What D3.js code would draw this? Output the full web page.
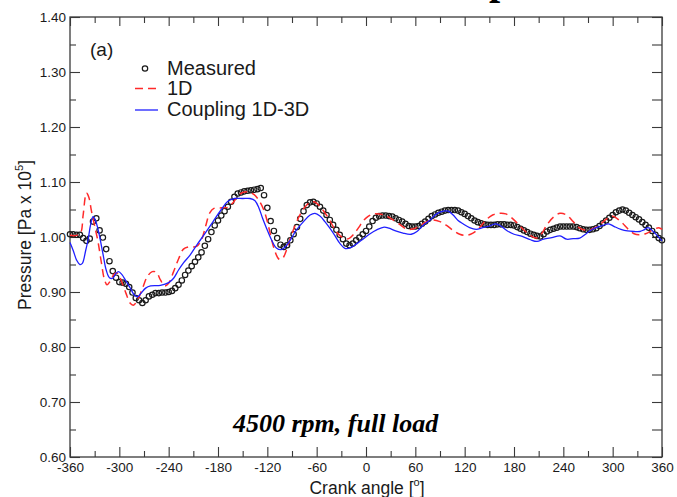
<!DOCTYPE html>
<html>
<head>
<meta charset="utf-8">
<script src="https://cdn.jsdelivr.net/npm/d3@7"></script>
<style>
  body { margin: 0; background: #fff; }
  svg { display: block; font-family: "Liberation Sans", Arial, sans-serif; }
</style>
</head>
<body>
<svg id="svg1"></svg>
<script>
// tick values
const xMajor = [-360, -300, -240, -180, -120, -60, 0, 60, 120, 180, 240, 300, 360];
const xMinor = [-330, -270, -210, -150, -90, -30, 30, 90, 150, 210, 270, 330];
const yMajor = [0.6, 0.7, 0.8, 0.9, 1.0, 1.1, 1.2, 1.3, 1.4];
const yMinor = [0.65, 0.75, 0.85, 0.95, 1.05, 1.15, 1.25, 1.35];

// measured pressure, one sample every 4 deg from -360 to 360
const measuredAngles = d3.range(-360, 361, 4);
const measuredPressure = [
  1.005, 1.005, 1.004, 1.004, 0.998, 0.993, 0.997, 1.028, 1.034, 1.012,
  0.999, 0.978, 0.956, 0.938, 0.926, 0.918, 0.917, 0.915, 0.909, 0.899,
  0.889, 0.885, 0.880, 0.885, 0.892, 0.895, 0.898, 0.898, 0.899, 0.899,
  0.900, 0.902, 0.907, 0.913, 0.921, 0.931, 0.939, 0.947, 0.955, 0.963,
  0.972, 0.984, 0.996, 1.009, 1.021, 1.030, 1.039, 1.047, 1.055, 1.064,
  1.073, 1.079, 1.081, 1.083, 1.084, 1.085, 1.086, 1.087, 1.089, 1.076,
  1.053, 1.029, 1.011, 0.998, 0.986, 0.982, 0.985, 0.994, 1.005, 1.018,
  1.033, 1.047, 1.058, 1.063, 1.064, 1.061, 1.055, 1.048, 1.040, 1.031,
  1.022, 1.013, 1.004, 0.996, 0.988, 0.985, 0.988, 0.994, 0.999, 1.005,
  1.011, 1.019, 1.029, 1.035, 1.038, 1.039, 1.039, 1.038, 1.037, 1.034,
  1.031, 1.028, 1.024, 1.020, 1.019, 1.019, 1.020, 1.024, 1.028, 1.033,
  1.038, 1.041, 1.044, 1.046, 1.048, 1.049, 1.049, 1.049, 1.048, 1.045,
  1.042, 1.038, 1.034, 1.030, 1.027, 1.025, 1.023, 1.022, 1.022, 1.022,
  1.023, 1.023, 1.023, 1.022, 1.022, 1.021, 1.018, 1.015, 1.012, 1.009,
  1.006, 1.004, 1.002, 1.001, 1.005, 1.010, 1.013, 1.015, 1.017, 1.019,
  1.019, 1.019, 1.019, 1.019, 1.018, 1.016, 1.014, 1.013, 1.013, 1.014,
  1.016, 1.020, 1.025, 1.030, 1.035, 1.040, 1.045, 1.048, 1.050, 1.048,
  1.044, 1.040, 1.036, 1.032, 1.027, 1.022, 1.017, 1.011, 1.004, 0.998,
  0.994
];

// 1D simulation [angle, pressure]
const oneD = [
  [-360, 1.003], [-352, 1.003], [-347, 1.008], [-344, 1.040], [-340, 1.080],
  [-337, 1.072], [-334, 1.048], [-330, 1.020], [-326, 0.992], [-322, 0.955],
  [-318, 0.922], [-315, 0.913], [-311, 0.920], [-306, 0.933], [-302, 0.934],
  [-297, 0.918], [-292, 0.898], [-287, 0.880], [-283, 0.876], [-278, 0.885],
  [-272, 0.906], [-266, 0.928], [-260, 0.937], [-255, 0.936], [-250, 0.922],
  [-245, 0.911], [-240, 0.916], [-234, 0.937], [-228, 0.960], [-222, 0.978],
  [-216, 0.982], [-206, 0.983], [-200, 0.995], [-195, 1.020], [-190, 1.044],
  [-185, 1.052], [-176, 1.053], [-168, 1.054], [-162, 1.062], [-156, 1.074],
  [-150, 1.081], [-142, 1.082], [-136, 1.077], [-130, 1.066], [-124, 1.048],
  [-118, 1.016], [-112, 0.980], [-106, 0.960], [-102, 0.960], [-97, 0.975],
  [-92, 0.998], [-86, 1.022], [-80, 1.041], [-74, 1.055], [-68, 1.063],
  [-63, 1.064], [-57, 1.057], [-50, 1.044], [-44, 1.030], [-38, 1.014],
  [-32, 1.003], [-26, 0.997], [-21, 0.997], [-15, 1.005], [-9, 1.017],
  [-3, 1.030], [3, 1.038], [9, 1.042], [16, 1.042], [22, 1.040],
  [30, 1.034], [40, 1.024], [50, 1.014], [58, 1.015], [66, 1.021],
  [74, 1.028], [82, 1.031], [90, 1.028], [98, 1.021], [106, 1.012],
  [114, 1.005], [122, 1.003], [130, 1.007], [138, 1.017], [146, 1.031],
  [154, 1.040], [162, 1.043], [170, 1.042], [178, 1.034], [186, 1.022],
  [194, 1.010], [201, 1.002], [207, 0.998], [213, 1.005], [220, 1.022],
  [228, 1.036], [236, 1.043], [244, 1.040], [252, 1.028], [260, 1.016],
  [268, 1.012], [276, 1.015], [284, 1.022], [292, 1.032], [299, 1.038],
  [305, 1.034], [312, 1.025], [319, 1.014], [326, 1.006], [332, 1.004],
  [340, 1.006], [348, 1.012], [356, 1.017], [360, 1.014]
];

// coupled 1D-3D simulation [angle, pressure]
const coupling = [
  [-360, 0.990], [-356, 0.975], [-352, 0.958], [-348, 0.950], [-345, 0.952],
  [-341, 0.975], [-338, 0.995], [-335, 1.022], [-332, 1.037], [-329, 1.030],
  [-325, 1.008], [-320, 0.970], [-316, 0.940], [-312, 0.926], [-308, 0.925],
  [-304, 0.934], [-301, 0.937], [-297, 0.932], [-292, 0.920], [-287, 0.908],
  [-282, 0.895], [-278, 0.891], [-274, 0.897], [-268, 0.907], [-262, 0.911],
  [-250, 0.912], [-240, 0.917], [-234, 0.925], [-228, 0.940], [-222, 0.953],
  [-214, 0.967], [-206, 0.985], [-196, 1.006], [-186, 1.028], [-176, 1.050],
  [-168, 1.065], [-160, 1.070], [-150, 1.070], [-141, 1.070], [-135, 1.066],
  [-130, 1.052], [-126, 1.035], [-121, 1.016], [-115, 0.995], [-109, 0.980],
  [-103, 0.977], [-97, 0.984], [-91, 0.997], [-85, 1.012], [-76, 1.028],
  [-68, 1.040], [-62, 1.043], [-56, 1.038], [-50, 1.028], [-44, 1.016],
  [-38, 1.003], [-32, 0.989], [-25, 0.979], [-18, 0.981], [-11, 0.988],
  [-3, 0.997], [5, 1.006], [13, 1.013], [22, 1.018], [28, 1.016],
  [36, 1.011], [45, 1.007], [55, 1.005], [62, 1.010], [70, 1.022],
  [78, 1.031], [86, 1.042], [94, 1.047], [100, 1.047], [106, 1.040],
  [112, 1.030], [118, 1.024], [126, 1.017], [134, 1.014], [142, 1.017],
  [150, 1.020], [158, 1.024], [164, 1.020], [172, 1.011], [180, 1.005],
  [190, 1.001], [200, 0.995], [208, 0.992], [216, 0.996], [226, 0.999],
  [236, 1.002], [244, 0.996], [252, 0.997], [260, 0.998], [266, 1.004],
  [272, 1.011], [280, 1.017], [288, 1.021], [295, 1.024], [302, 1.019],
  [310, 1.014], [318, 1.011], [326, 1.010], [333, 1.010], [338, 1.013],
  [343, 1.017], [348, 1.012], [354, 1.003], [360, 0.993]
];

// layout
const margin = {top: 17, right: 15, bottom: 40, left: 70};
const width = 592;
const height = 440;

const root = d3.select('#svg1')
    .attr('width', width + margin.left + margin.right)
    .attr('height', height + margin.top + margin.bottom);

const svg = root.append('g')
    .attr('transform', 'translate(' + margin.left + ',' + margin.top + ')');

const x = d3.scaleLinear().domain([-360, 360]).range([0, width]);
const y = d3.scaleLinear().domain([0.6, 1.4]).range([height, 0]);

const axisColor = '#3a3a3a';
function styleAxis(g) {
  g.select('.domain').remove();
  g.selectAll('.tick line').attr('stroke', axisColor).attr('stroke-width', 1.1);
  g.selectAll('.tick text')
      .attr('fill', '#1a1a1a')
      .style('font-size', '13.5px')
      .style('font-family', '"Liberation Sans", Arial, sans-serif');
}

// left axis (inward ticks)
svg.append('g')
    .call(d3.axisLeft(y).tickValues(yMajor).tickSize(-10).tickPadding(4)
      .tickFormat(d3.format('.2f')))
    .call(styleAxis);
svg.append('g')
    .call(d3.axisLeft(y).tickValues(yMinor).tickSize(-6).tickFormat(''))
    .call(styleAxis);

// right axis
svg.append('g')
    .attr('transform', 'translate(' + width + ',0)')
    .call(d3.axisRight(y).tickValues(yMajor.concat(yMinor)).tickSize(-10).tickFormat(''))
    .call(styleAxis);

// bottom axis, plain hyphen for negatives like the original
svg.append('g')
    .attr('transform', 'translate(0,' + height + ')')
    .call(d3.axisBottom(x).tickValues(xMajor).tickSize(-10).tickPadding(5)
      .tickFormat(function(d) { return String(d); }))
    .call(styleAxis);
svg.append('g')
    .attr('transform', 'translate(0,' + height + ')')
    .call(d3.axisBottom(x).tickValues(xMinor).tickSize(-6).tickFormat(''))
    .call(styleAxis);

// top axis
svg.append('g')
    .call(d3.axisTop(x).tickValues(xMajor).tickSize(-9).tickFormat(''))
    .call(styleAxis);
svg.append('g')
    .call(d3.axisTop(x).tickValues(xMinor).tickSize(-6).tickFormat(''))
    .call(styleAxis);

// frame
svg.append('rect')
    .attr('width', width)
    .attr('height', height)
    .attr('fill', 'none')
    .attr('stroke', axisColor)
    .attr('stroke-width', 1.3);

// measured circles
svg.append('g')
    .selectAll('circle')
    .data(measuredAngles.map(function(a, i) { return [a, measuredPressure[i]]; }))
    .enter()
    .append('circle')
    .attr('cx', function(d) { return x(d[0]); })
    .attr('cy', function(d) { return y(d[1]); })
    .attr('r', 2.7)
    .attr('fill', 'none')
    .attr('stroke', '#1a1a1a')
    .attr('stroke-width', 1.2);

const line = d3.line()
    .x(function(d) { return x(d[0]); })
    .y(function(d) { return y(d[1]); })
    .curve(d3.curveCatmullRom.alpha(0.5));

// 1D
svg.append('path')
    .datum(oneD)
    .attr('d', line)
    .attr('fill', 'none')
    .attr('stroke', '#ff2a2a')
    .attr('stroke-width', 1.5)
    .attr('stroke-dasharray', '8,5');

// coupling 1D-3D
svg.append('path')
    .datum(coupling)
    .attr('d', line)
    .attr('fill', 'none')
    .attr('stroke', '#1f1fff')
    .attr('stroke-width', 1.3);

// panel label
root.append('text')
    .attr('x', 90).attr('y', 56)
    .attr('fill', '#1a1a1a')
    .style('font-size', '19px')
    .text('(a)');

// legend
const legend = root.append('g').attr('fill', '#1a1a1a').style('font-size', '20px');
legend.append('circle')
    .attr('cx', 145).attr('cy', 68.5).attr('r', 2.7)
    .attr('fill', 'none').attr('stroke', '#1a1a1a').attr('stroke-width', 1.2);
legend.append('text').attr('x', 167).attr('y', 75).text('Measured');
legend.append('line')
    .attr('x1', 135).attr('x2', 158).attr('y1', 88.5).attr('y2', 88.5)
    .attr('stroke', '#ff2a2a').attr('stroke-width', 1.5).attr('stroke-dasharray', '8,5');
legend.append('text').attr('x', 167).attr('y', 95).text('1D');
legend.append('line')
    .attr('x1', 135).attr('x2', 158).attr('y1', 110).attr('y2', 110)
    .attr('stroke', '#1f1fff').attr('stroke-width', 1.3);
legend.append('text').attr('x', 167).attr('y', 116).text('Coupling 1D-3D');

// operating point note
root.append('text')
    .attr('x', 233).attr('y', 432)
    .style('font-family', '"Liberation Serif", "Times New Roman", serif')
    .style('font-weight', 'bold')
    .style('font-style', 'italic')
    .style('font-size', '26px')
    .attr('fill', '#000')
    .text('4500 rpm, full load');

// cropped page title glyph at the top edge
root.append('text')
    .attr('x', 489).attr('y', -6)
    .style('font-family', '"Liberation Serif", "Times New Roman", serif')
    .style('font-weight', 'bold')
    .style('font-size', '40px')
    .attr('fill', '#000')
    .text('p');

// axis titles
const yTitle = root.append('text')
    .attr('transform', 'translate(31,235) rotate(-90)')
    .attr('text-anchor', 'middle')
    .attr('fill', '#1a1a1a')
    .style('font-size', '17.5px');
yTitle.append('tspan').text('Pressure [Pa x 10');
yTitle.append('tspan').attr('dy', -8).style('font-size', '11px').text('5');
yTitle.append('tspan').attr('dy', 8).text(']');

const xTitle = root.append('text')
    .attr('x', 367).attr('y', 494)
    .attr('text-anchor', 'middle')
    .attr('fill', '#1a1a1a')
    .style('font-size', '17.5px');
xTitle.append('tspan').text('Crank angle [');
xTitle.append('tspan').attr('dy', -8).style('font-size', '11px').text('o');
xTitle.append('tspan').attr('dy', 8).text(']');
</script>
</body>
</html>
